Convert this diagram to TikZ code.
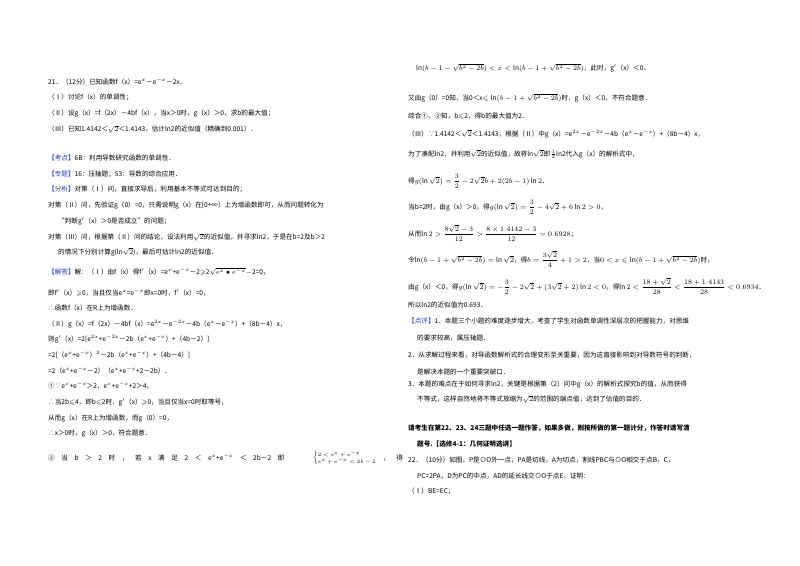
\documentclass[tikz,border=0pt]{standalone}
\usepackage{fontspec}
\usepackage{amssymb}
\setmainfont{Noto Sans CJK SC}
\definecolor{kb}{RGB}{30,60,200}
\begin{document}
\begin{tikzpicture}[x=1pt,y=-1pt,every node/.style={anchor=west,inner sep=0pt,font=\fontsize{6.6}{8}\selectfont},
lab/.style={text=kb}]
\useasboundingbox[fill=white] (0,0) rectangle (800,565);
% left column
\node (l1) at (48,82) {21．（12分）已知函数f（x）=e$^{x}$－e$^{-x}$－2x．};
\node (l2) at (48,97) {（Ⅰ）讨论f（x）的单调性；};
\node (l3) at (48,113) {（Ⅱ）设g（x）=f（2x）－4bf（x），当x＞0时，g（x）＞0，求b的最大值；};
\node (l4) at (48,129) {（Ⅲ）已知1.4142＜$\sqrt{2}$＜1.4143，估计ln2的近似值（精确到0.001）．};
\node (l5) at (48,158) {\textcolor{kb}{【考点】}6B：利用导数研究函数的单调性．};
\node (l6) at (48,174) {\textcolor{kb}{【专题】}16：压轴题；53：导数的综合应用．};
\node (l7) at (48,189) {\textcolor{kb}{【分析】}对第（Ⅰ）问，直接求导后，利用基本不等式可达到目的；};
\node (l8) at (48,205) {对第（Ⅱ）问，先验证g（0）=0，只需说明g（x）在[0+∞）上为增函数即可，从而问题转化为};
\node (l9) at (58,221) {“判断g$'$（x）＞0是否成立”的问题；};
\node (l10) at (48,237) {对第（Ⅲ）问，根据第（Ⅱ）问的结论，设法利用$\sqrt{2}$的近似值，并寻求ln2，于是在b=2及b＞2};
\node (l11) at (58,252) {的情况下分别计算g(ln$\sqrt{2}$)，最后可估计ln2的近似值．};
\node (l12) at (48,272) {\textcolor{kb}{【解答】}解：（Ⅰ）由f（x）得f$'$（x）=e$^{x}$+e$^{-x}$－2$\geqslant$2$\sqrt{e^{x}\bullet e^{-x}}$$-$2=0，};
\node (l13) at (48,293) {即f$'$（x）$\geqslant$0，当且仅当e$^{x}$=e$^{-x}$即x=0时，f$'$（x）=0，};
\node (l14) at (48,308) {∴函数f（x）在R上为增函数．};
\node (l15) at (48,324) {（Ⅱ）g（x）=f（2x）－4bf（x）=e$^{2x}$－e$^{-2x}$－4b（e$^{x}$－e$^{-x}$）+（8b－4）x，};
\node (l16) at (48,339) {则g$'$（x）=2[e$^{2x}$+e$^{-2x}$－2b（e$^{x}$+e$^{-x}$）+（4b－2）]};
\node (l17) at (48,355) {=2[（e$^{x}$+e$^{-x}$）$^{2}$－2b（e$^{x}$+e$^{-x}$）+（4b－4）]};
\node (l18) at (48,371) {=2（e$^{x}$+e$^{-x}$－2）（e$^{x}$+e$^{-x}$+2－2b）．};
\node (l19) at (48,386) {①∵e$^{x}$+e$^{-x}$＞2，e$^{x}$+e$^{-x}$+2＞4，};
\node (l20) at (48,402) {∴当2b$\leqslant$4，即b$\leqslant$2时，g$'$（x）$\geqslant$0，当且仅当x=0时取等号，};
\node (l21) at (48,418) {从而g（x）在R上为增函数，而g（0）=0，};
\node (l22) at (48,433) {∴x＞0时，g（x）＞0，符合题意．};
\node (l23) at (48,458) {②\quad 当\quad b\quad ＞\quad 2\quad 时\quad ，\quad 若\quad x\quad 满\quad 足\quad 2\quad ＜\quad e$^{x}$+e$^{-x}$\quad ＜\quad 2b－2\quad 即};
\node[font=\fontsize{5.5}{6}\selectfont] (l24) at (313,458) {$\left\{\begin{array}{@{}l@{}}2<e^{x}+e^{-x}\\ e^{x}+e^{-x}<2b-2\end{array}\right.$};
\node (l25) at (l24.east) [xshift=6pt] {，\quad 得};
% right column
\node (r1) at (416,68) {$\ln(b-1-\sqrt{b^2-2b})<x<\ln(b-1+\sqrt{b^2-2b})$，此时，g$'$（x）＜0，};
\node (r2) at (408,98) {又由g（0）=0知，当0＜x$\leqslant\ln(b-1+\sqrt{b^2-2b})$时，g（x）＜0，不符合题意．};
\node (r3) at (408,116) {综合①、②知，b$\leqslant$2，得b的最大值为2．};
\node (r4) at (408,134) {（Ⅲ）∵1.4142＜$\sqrt{2}$＜1.4143，根据（Ⅱ）中g（x）=e$^{2x}$－e$^{-2x}$－4b（e$^{x}$－e$^{-x}$）+（8b－4）x，};
\node (r5) at (408,154) {为了凑配ln2，并利用$\sqrt{2}$的近似值，故将ln$\sqrt{2}$即$\frac{1}{2}$ln2代入g（x）的解析式中，};
\node (r6) at (408,181) {得$\displaystyle g(\ln\sqrt{2})=\frac{3}{2}-2\sqrt{2}b+2(2b-1)\ln2$．};
\node (r7) at (408,207) {当b=2时，由g（x）＞0，得$\displaystyle g(\ln\sqrt{2})=\frac{3}{2}-4\sqrt{2}+6\ln2>0$，};
\node (r8) at (408,233) {从而$\displaystyle \ln2>\frac{8\sqrt{2}-3}{12}>\frac{8\times1.4142-3}{12}=0.6928$；};
\node (r9) at (408,259) {令$\ln(b-1+\sqrt{b^2-2b})=\ln\sqrt{2}$，得$\displaystyle b=\frac{3\sqrt{2}}{4}+1>2$，当$0<x\leqslant\ln(b-1+\sqrt{b^2-2b})$时，};
\node (r10) at (408,286) {由g（x）＜0，得$\displaystyle g(\ln\sqrt{2})=-\frac{3}{2}-2\sqrt{2}+(3\sqrt{2}+2)\ln2<0$，得$\displaystyle\ln2<\frac{18+\sqrt{2}}{28}<\frac{18+1.4143}{28}<0.6934$．};
\node (r11) at (408,305) {所以ln2的近似值为0.693．};
\node (r12) at (408,321) {\textcolor{kb}{【点评】}1．本题三个小题的难度逐步增大，考查了学生对函数单调性深层次的把握能力，对思维};
\node (r13) at (417,338) {的要求较高，属压轴题．};
\node (r14) at (408,355) {2．从求解过程来看，对导函数解析式的合理变形至关重要，因为这直接影响到对导数符号的判断，};
\node (r15) at (417,372) {是解决本题的一个重要突破口．};
\node (r16) at (408,384) {3．本题的难点在于如何寻求ln2，关键是根据第（2）问中g（x）的解析式探究b的值，从而获得};
\node (r17) at (417,399) {不等式，这样自然地将不等式放缩为$\sqrt{2}$的范围的端点值，达到了估值的目的．};
\node[font=\fontsize{6.6}{8}\bfseries\selectfont] (r18) at (408,428) {请考生在第22、23、24三题中任选一题作答，如果多做，则按所做的第一题计分，作答时请写清};
\node[font=\fontsize{6.6}{8}\bfseries\selectfont] (r19) at (417,444) {题号.【选修4-1：几何证明选讲】};
\node (r20) at (408,460) {22．（10分）如图，P是⊙O外一点，PA是切线，A为切点，割线PBC与⊙O相交于点B，C，};
\node (r21) at (417,476) {PC=2PA，D为PC的中点，AD的延长线交⊙O于点E，证明：};
\node (r22) at (408,491) {（Ⅰ）BE=EC；};
\end{tikzpicture}
\end{document}
